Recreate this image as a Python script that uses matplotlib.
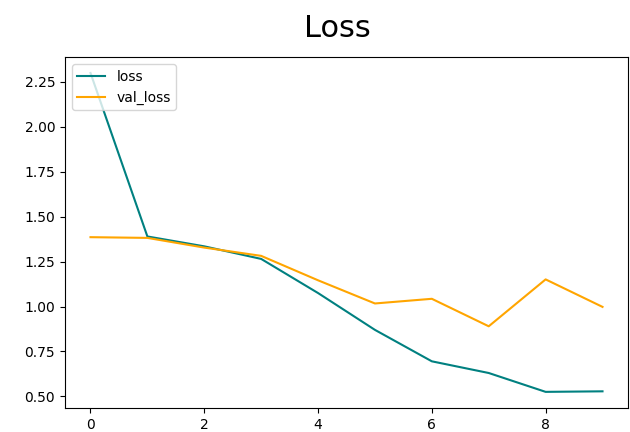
"""Training loss vs validation loss per epoch"""

import matplotlib.pyplot as plt
import numpy as np


# values read from the training history
epochs = np.arange(10)
loss = [2.30, 1.39, 1.335, 1.265, 1.075, 0.87, 0.695, 0.63, 0.525, 0.528]
val_loss = [1.386, 1.382, 1.328, 1.282, 1.146, 1.017, 1.043, 0.89, 1.151, 0.998]

fig = plt.figure()
fig.set_size_inches((6.3, 4.32))
fig.subplots_adjust(left=0.103, right=0.997, top=0.868, bottom=0.056)
ax = fig.gca()

ax.plot(epochs, loss, color="teal", label="loss")
ax.plot(epochs, val_loss, color="orange", label="val_loss")

fig.suptitle("Loss", fontsize=22, x=0.535, y=0.915, va="baseline")
ax.legend(loc="upper left")

fig.savefig("out.png", dpi=100)
